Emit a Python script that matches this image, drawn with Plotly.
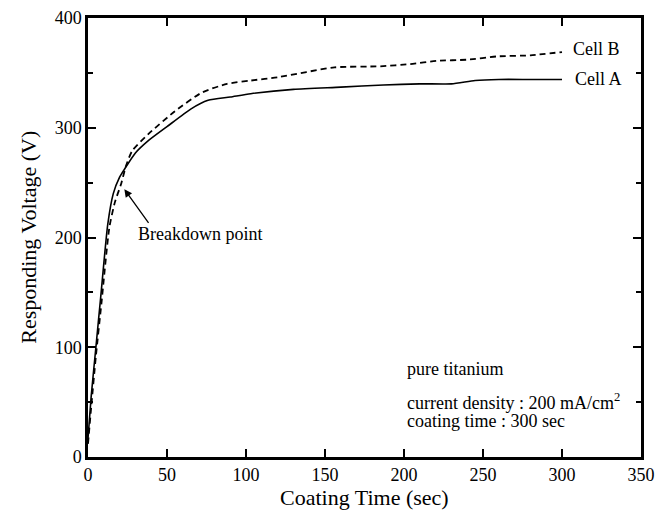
import plotly.graph_objects as go

# Cell A (solid)
cell_a_x = [0, 2, 5, 8, 12.5, 16, 20, 23, 30, 38, 50, 65, 76, 90, 103, 130, 160, 187, 210, 230, 245, 260, 280, 300]
cell_a_y = [17, 55, 100, 145, 212, 240, 255, 262, 277, 288, 301, 317, 325, 328, 331, 335, 337, 339, 340, 340, 343, 344, 344, 344]

# Cell B (dashed)
cell_b_x = [0, 2, 5, 8.5, 13.5, 17, 21, 24, 28, 38, 55, 72, 88, 103, 120, 156, 185, 204, 221, 240, 259, 280, 300]
cell_b_y = [12, 45, 92, 140, 209, 232, 249, 265, 279, 294, 315, 332, 340, 343, 346, 355, 356, 358, 361, 362, 365, 366, 369]

x_ticks = [0, 50, 100, 150, 200, 250, 300, 350]
y_ticks = [0, 100, 200, 300, 400]

FONT = "Liberation Serif"

fig = go.Figure()
fig.add_trace(go.Scatter(x=cell_a_x, y=cell_a_y, mode="lines", name="Cell A",
                         line=dict(color="black", width=1.6, shape="spline", smoothing=0.6)))
fig.add_trace(go.Scatter(x=cell_b_x, y=cell_b_y, mode="lines", name="Cell B",
                         line=dict(color="black", width=1.8, dash="6px,4px", shape="spline", smoothing=0.6)))

axis_common = dict(showline=True, linecolor="black", linewidth=2.5, mirror="allticks",
                   ticks="inside", ticklen=8, tickwidth=2, tickcolor="black",
                   showgrid=False, zeroline=False, automargin=False,
                   tickfont=dict(family=FONT, size=18, color="black"))

fig.update_xaxes(range=[0, 350], tickvals=x_ticks, **axis_common)
fig.update_yaxes(range=[0, 400], tickvals=y_ticks,
                 minor=dict(dtick=50, ticks="inside", ticklen=5, tickwidth=2, tickcolor="black"),
                 **axis_common)

ann = []
ann.append(dict(x=0.5, y=-0.093, xref="paper", yref="paper", text="Coating Time (sec)",
                showarrow=False, yanchor="middle", font=dict(family=FONT, size=22, color="black")))
ann.append(dict(x=-0.108, y=0.5, xref="paper", yref="paper", text="Responding Voltage (V)",
                showarrow=False, textangle=-90, xanchor="center",
                font=dict(family=FONT, size=22, color="black")))
ann.append(dict(x=305.5, y=371.5, xref="x", yref="y", text="Cell B", showarrow=False,
                xanchor="left", font=dict(family=FONT, size=18, color="black")))
ann.append(dict(x=307, y=344.5, xref="x", yref="y", text="Cell A", showarrow=False,
                xanchor="left", font=dict(family=FONT, size=18, color="black")))
ann.append(dict(x=30.5, y=203, xref="x", yref="y", text="Breakdown point", showarrow=False,
                xanchor="left", font=dict(family=FONT, size=18, color="black")))
ann.append(dict(x=23, y=244, xref="x", yref="y", ax=39, ay=212, axref="x", ayref="y",
                text="", showarrow=True, arrowhead=2, arrowsize=1.2, arrowwidth=1.3,
                arrowcolor="black"))
ann.append(dict(x=200.5, y=80, xref="x", yref="y", text="pure titanium", showarrow=False,
                xanchor="left", font=dict(family=FONT, size=18, color="black")))
ann.append(dict(x=200.5, y=51, xref="x", yref="y", text="current density : 200 mA/cm<sup>2</sup>",
                showarrow=False, xanchor="left", font=dict(family=FONT, size=18, color="black")))
ann.append(dict(x=200.5, y=33, xref="x", yref="y", text="coating time : 300 sec", showarrow=False,
                xanchor="left", font=dict(family=FONT, size=18, color="black")))

fig.update_layout(width=671, height=519, margin=dict(l=80, r=38, t=10, b=70, pad=0),
                  plot_bgcolor="white", paper_bgcolor="white", showlegend=False,
                  annotations=ann)

fig.write_html("out.html")
